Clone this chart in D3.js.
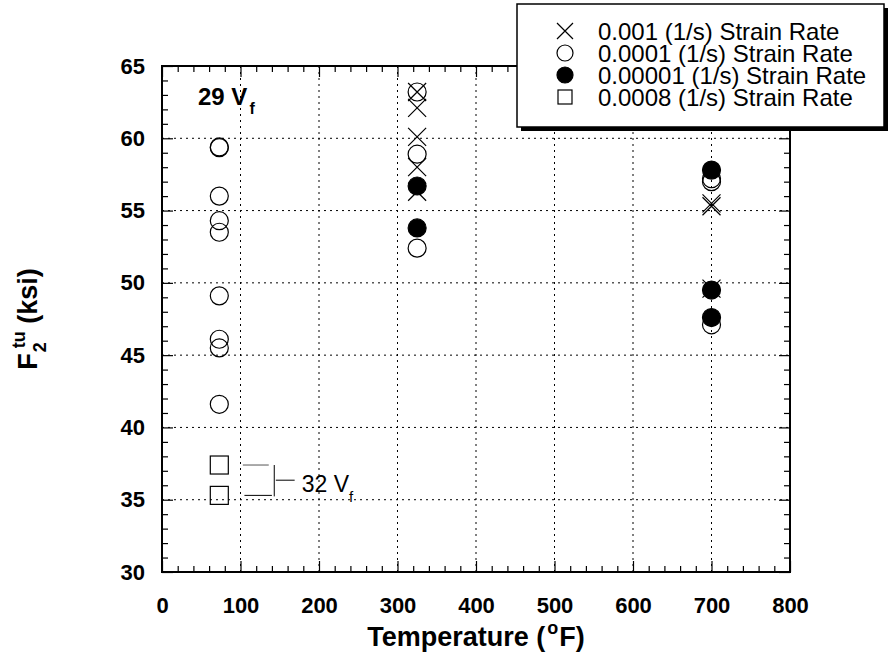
<!DOCTYPE html>
<html>
<head>
<meta charset="utf-8">
<script src="https://cdn.jsdelivr.net/npm/d3@7"></script>
<style>
  body { margin: 0; background: #fff; }
  svg { font-family: "Liberation Sans", Arial, sans-serif; }
  .grid line { stroke: #000; stroke-width: 1; stroke-dasharray: 2,4; }
  .ticklabel text { font-size: 22px; font-weight: bold; fill: #000; }
  .axis path { display: none; }
  .axis line { stroke: #000; stroke-width: 1.2; }
</style>
</head>
<body>
<div id="chart"></div>
<script>
// tick values
var xMajor = [0, 100, 200, 300, 400, 500, 600, 700, 800]
var yMajor = [30, 35, 40, 45, 50, 55, 60, 65]

// 0.001 (1/s) strain rate, crosses
var crossTemp = [325, 325, 325, 325, 325, 700, 700, 700]
var crossVal = [63.2, 62.1, 60.1, 58.0, 56.3, 55.3, 55.5, 49.6]

// 0.0001 (1/s) strain rate, open circles
var openTemp = [73, 73, 73, 73, 73, 73, 73, 73, 73, 325, 325, 325, 700, 700, 700]
var openVal = [59.4, 59.35, 56.0, 54.3, 53.5, 49.1, 46.1, 45.5, 41.6, 63.2, 58.9, 52.4, 57.2, 57.0, 47.1]

// 0.00001 (1/s) strain rate, filled circles
var fillTemp = [325, 325, 700, 700, 700]
var fillVal = [56.7, 53.8, 57.8, 49.5, 47.6]

// 0.0008 (1/s) strain rate, squares (32 Vf)
var squareTemp = [73, 73]
var squareVal = [37.4, 35.3]

var legendLabels = [
  "0.001 (1/s) Strain Rate",
  "0.0001 (1/s) Strain Rate",
  "0.00001 (1/s) Strain Rate",
  "0.0008 (1/s) Strain Rate"
]

var width = 891, height = 664
var plot = { left: 162, right: 790, top: 66, bottom: 572 }

var svg = d3.select("#chart").append("svg")
  .attr("width", width)
  .attr("height", height)

var x = d3.scaleLinear().domain([0, 800]).range([plot.left, plot.right])
var y = d3.scaleLinear().domain([30, 65]).range([plot.bottom, plot.top])

var xMinor = d3.range(0, 801, 20).filter(function (v) { return v % 100 !== 0 })
var yMinor = d3.range(30, 66, 1).filter(function (v) { return v % 5 !== 0 })

// dotted grid
var grid = svg.append("g").attr("class", "grid")
grid.selectAll("line.gx")
  .data(xMajor.filter(function (v) { return v > 0 && v < 800 }))
  .enter().append("line")
    .attr("x1", function (d) { return x(d) })
    .attr("x2", function (d) { return x(d) })
    .attr("y1", plot.top)
    .attr("y2", plot.bottom)
grid.selectAll("line.gy")
  .data(yMajor.filter(function (v) { return v > 30 && v < 65 }))
  .enter().append("line")
    .attr("x1", plot.left)
    .attr("x2", plot.right)
    .attr("y1", function (d) { return y(d) })
    .attr("y2", function (d) { return y(d) })

// ticks on all four sides, pointing inward
function addAxis(axis, tx, ty, cls) {
  svg.append("g")
    .attr("class", "axis " + (cls || ""))
    .attr("transform", "translate(" + tx + "," + ty + ")")
    .call(axis)
}
addAxis(d3.axisBottom(x).tickValues(xMajor).tickSizeInner(-11).tickSizeOuter(0).tickPadding(25).tickFormat(d3.format("d")), 0, plot.bottom, "ticklabel")
addAxis(d3.axisBottom(x).tickValues(xMinor).tickSizeInner(-6).tickSizeOuter(0).tickFormat(""), 0, plot.bottom)
addAxis(d3.axisTop(x).tickValues(xMajor).tickSizeInner(-11).tickSizeOuter(0).tickFormat(""), 0, plot.top)
addAxis(d3.axisTop(x).tickValues(xMinor).tickSizeInner(-6).tickSizeOuter(0).tickFormat(""), 0, plot.top)
addAxis(d3.axisLeft(y).tickValues(yMajor).tickSizeInner(-11).tickSizeOuter(0).tickPadding(17).tickFormat(d3.format("d")), plot.left, 0, "ticklabel")
addAxis(d3.axisLeft(y).tickValues(yMinor).tickSizeInner(-6).tickSizeOuter(0).tickFormat(""), plot.left, 0)
addAxis(d3.axisRight(y).tickValues(yMajor).tickSizeInner(-11).tickSizeOuter(0).tickFormat(""), plot.right, 0)
addAxis(d3.axisRight(y).tickValues(yMinor).tickSizeInner(-6).tickSizeOuter(0).tickFormat(""), plot.right, 0)

svg.append("rect")
  .attr("x", plot.left)
  .attr("y", plot.top)
  .attr("width", plot.right - plot.left)
  .attr("height", plot.bottom - plot.top)
  .attr("fill", "none")
  .attr("stroke", "#000")
  .attr("stroke-width", 2)

// symbol helpers
var R = 9
function drawCross(g, cx, cy, s) {
  g.append("path")
    .attr("d", "M" + (cx - s) + "," + (cy - s) + "L" + (cx + s) + "," + (cy + s) +
               "M" + (cx - s) + "," + (cy + s) + "L" + (cx + s) + "," + (cy - s))
    .attr("stroke", "#000")
    .attr("stroke-width", 1.2)
    .attr("fill", "none")
}
function drawCircle(g, cx, cy, r, filled) {
  g.append("circle")
    .attr("cx", cx)
    .attr("cy", cy)
    .attr("r", r)
    .attr("fill", filled ? "#000" : "none")
    .attr("stroke", "#000")
    .attr("stroke-width", 1.2)
}
function drawSquare(g, cx, cy, s) {
  g.append("rect")
    .attr("x", cx - s)
    .attr("y", cy - s)
    .attr("width", 2 * s)
    .attr("height", 2 * s)
    .attr("fill", "none")
    .attr("stroke", "#000")
    .attr("stroke-width", 1.2)
}

var marks = svg.append("g").attr("class", "marks")
crossTemp.forEach(function (t, i) { drawCross(marks, x(t), y(crossVal[i]), 9) })
openTemp.forEach(function (t, i) { drawCircle(marks, x(t), y(openVal[i]), R, false) })
fillTemp.forEach(function (t, i) { drawCircle(marks, x(t), y(fillVal[i]), R, true) })
squareTemp.forEach(function (t, i) { drawSquare(marks, x(t), y(squareVal[i]), 9) })

// 32 Vf bracket
var yTop = y(squareVal[0]), yBot = y(squareVal[1])
var bracket = svg.append("g").attr("stroke", "#000").attr("stroke-width", 1)
bracket.append("line").attr("x1", x(103)).attr("x2", x(136)).attr("y1", yTop).attr("y2", yTop).attr("stroke", "#555")
bracket.append("line").attr("x1", x(105)).attr("x2", x(140)).attr("y1", yBot).attr("y2", yBot)
bracket.append("line").attr("x1", x(143)).attr("x2", x(143)).attr("y1", yTop).attr("y2", yBot + 1)
bracket.append("line").attr("x1", x(145)).attr("x2", x(169)).attr("y1", (yTop + yBot) / 2).attr("y2", (yTop + yBot) / 2)

var lbl32 = svg.append("text")
  .attr("x", x(178))
  .attr("y", 492)
  .attr("font-size", 23)
lbl32.append("tspan").text("32 V")
lbl32.append("tspan").attr("font-size", 15).attr("dy", 10).text("f")

var lbl29 = svg.append("text")
  .attr("x", 198)
  .attr("y", 105)
  .attr("font-size", 24)
  .attr("font-weight", "bold")
lbl29.append("tspan").text("29 V")
lbl29.append("tspan").attr("font-size", 16).attr("dx", 2).attr("dy", 9).text("f")

// axis titles
var xTitle = svg.append("text")
  .attr("x", (plot.left + plot.right) / 2)
  .attr("y", 646)
  .attr("text-anchor", "middle")
  .attr("font-size", 27)
  .attr("font-weight", "bold")
xTitle.append("tspan").text("Temperature (")
xTitle.append("tspan").attr("font-size", 18).attr("dx", 2).attr("dy", -12).text("o")
xTitle.append("tspan").attr("dx", 1).attr("dy", 12).text("F)")

var yTitle = svg.append("text")
  .attr("transform", "translate(37," + ((plot.top + plot.bottom) / 2) + ") rotate(-90)")
  .attr("text-anchor", "middle")
  .attr("font-size", 27)
  .attr("font-weight", "bold")
yTitle.append("tspan").text("F")
yTitle.append("tspan").attr("font-size", 18).attr("dx", 1).attr("dy", 9).text("2")
yTitle.append("tspan").attr("font-size", 18).attr("dx", -6).attr("dy", -21).text("tu")
yTitle.append("tspan").attr("dy", 12).text(" (ksi)")

// legend with drop shadow
var legend = svg.append("g").attr("class", "legend")
var lg = { x: 517, y: 4, w: 367, h: 123 }
legend.append("rect")
  .attr("x", lg.x + 4).attr("y", lg.y + 4)
  .attr("width", lg.w).attr("height", lg.h)
  .attr("fill", "#000")
legend.append("rect")
  .attr("x", lg.x).attr("y", lg.y)
  .attr("width", lg.w).attr("height", lg.h)
  .attr("fill", "#fff")
  .attr("stroke", "#000")
  .attr("stroke-width", 1.5)

legendLabels.forEach(function (label, i) {
  var cy = 31 + i * 22
  var sx = 565
  if (i === 0) drawCross(legend, sx, cy, 8)
  if (i === 1) drawCircle(legend, sx, cy, 8, false)
  if (i === 2) drawCircle(legend, sx, cy, 8, true)
  if (i === 3) drawSquare(legend, sx, cy, 7)
  legend.append("text")
    .attr("x", 598)
    .attr("y", cy + 8.5)
    .attr("font-size", 24)
    .text(label)
})
</script>
</body>
</html>
